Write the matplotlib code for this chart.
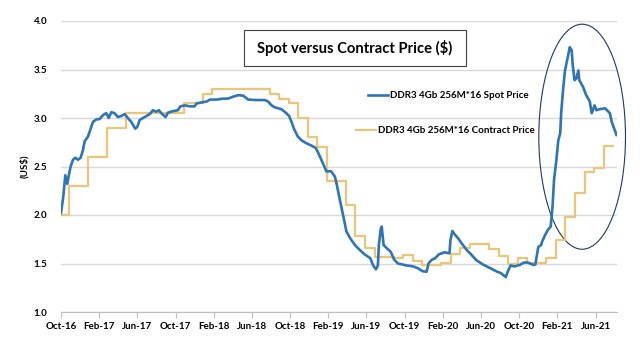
import matplotlib
matplotlib.use('Agg')
import matplotlib.pyplot as plt
from matplotlib.patches import Ellipse, Rectangle
from matplotlib.lines import Line2D
import numpy as np

# Months counted from Oct-2016
spot_month = [0.0, 0.24, 0.45, 0.66, 0.8, 1.01, 1.26, 1.5, 1.78, 2.06, 2.3, 2.48, 2.83, 3.0,
              3.35, 3.7, 4.05, 4.4, 4.75, 5.0, 5.27, 5.6, 5.97, 6.3, 6.67, 7.0, 7.36, 7.78,
              8.0, 8.24, 8.76, 9.3, 9.63, 9.98, 10.26, 10.5, 10.96, 11.2, 11.7, 12.25, 12.5,
              12.98, 13.5, 14.0, 14.2, 14.7, 15.26, 15.6, 16.3, 17.0, 17.5, 18.04, 18.57,
              19.1, 19.6, 20.5, 21.36, 21.7, 22.06, 22.4, 23.1, 23.6, 23.9, 24.15, 24.4,
              24.8, 25.2, 25.7, 26.25, 26.7, 26.95, 27.2, 27.5, 27.8, 28.3, 28.7, 28.9,
              29.1, 29.4, 29.7, 29.9, 30.3, 30.8, 31.3, 31.8, 32.4, 32.7, 33.0, 33.2, 33.3,
              33.5, 33.6, 33.8, 34.1, 34.55, 34.9, 35.3, 35.95, 36.2, 36.9, 37.4, 37.9,
              38.3, 38.5, 38.8, 39.2, 39.6, 40.2, 40.7, 40.8, 41.0, 41.25, 41.6, 41.96,
              42.5, 43.0, 43.5, 44.2, 44.9, 45.6, 46.1, 46.6, 46.8, 47.1, 47.5, 48.06,
              48.5, 48.9, 49.5, 49.7, 50.0, 50.3, 50.4, 50.7, 51.0, 51.3, 51.5, 51.65,
              51.9, 52.1, 52.3, 52.4, 52.6, 52.8, 52.95, 53.1, 53.3, 53.5, 53.6, 53.8,
              54.0, 54.2, 54.3, 54.7, 55.0, 55.4, 55.6, 55.9, 56.1, 56.4, 57.0, 57.5,
              57.7, 58.0, 58.2]
spot_price = [2.02, 2.19, 2.41, 2.32, 2.40, 2.50, 2.57, 2.59, 2.57, 2.59, 2.67, 2.76, 2.81, 2.86,
              2.96, 2.985, 2.99, 3.03, 3.05, 3.00, 3.06, 3.05, 3.01, 3.02, 3.04, 3.00, 2.96, 2.89,
              2.91, 2.98, 3.01, 3.04, 3.08, 3.065, 3.08, 3.05, 3.01, 3.055, 3.07, 3.08, 3.12,
              3.13, 3.12, 3.12, 3.15, 3.16, 3.17, 3.19, 3.19, 3.20, 3.20, 3.22, 3.235,
              3.23, 3.19, 3.185, 3.185, 3.17, 3.13, 3.11, 3.09, 3.05, 3.02, 2.96, 2.89,
              2.81, 2.77, 2.74, 2.715, 2.69, 2.64, 2.585, 2.52, 2.45, 2.45, 2.395, 2.31,
              2.21, 2.07, 1.93, 1.83, 1.76, 1.69, 1.64, 1.595, 1.555, 1.48, 1.44, 1.48, 1.69,
              1.86, 1.88, 1.69, 1.66, 1.62, 1.54, 1.50, 1.485, 1.48, 1.47, 1.45, 1.42,
              1.415, 1.50, 1.535, 1.555, 1.595, 1.615, 1.605, 1.74, 1.835, 1.80, 1.76, 1.71,
              1.64, 1.59, 1.535, 1.49, 1.455, 1.42, 1.40, 1.36, 1.415, 1.48, 1.47, 1.485,
              1.51, 1.51, 1.485, 1.49, 1.67, 1.69, 1.725, 1.79, 1.845, 1.88, 2.09, 2.36,
              2.57, 2.77, 2.84, 3.05, 3.29, 3.49, 3.56, 3.63, 3.73, 3.70, 3.56, 3.39,
              3.41, 3.49, 3.39, 3.32, 3.24, 3.17, 3.05, 3.13, 3.08, 3.09, 3.10, 3.05,
              2.96, 2.88, 2.825]

# Monthly contract price, Oct-16 onwards
contract_price = [2.00, 2.30, 2.30, 2.60, 2.60, 2.90, 2.90, 3.05, 3.05, 3.05, 3.05, 3.05, 3.05,
                  3.15, 3.15, 3.25, 3.30, 3.30, 3.30, 3.30, 3.30, 3.30, 3.25, 3.20, 3.15,
                  3.00, 2.80, 2.70, 2.35, 2.35, 2.10, 1.78, 1.66, 1.57, 1.57, 1.555, 1.59,
                  1.53, 1.48, 1.48, 1.51, 1.60, 1.66, 1.70, 1.70, 1.65, 1.58, 1.50, 1.555,
                  1.51, 1.51, 1.555, 1.74, 1.98, 2.23, 2.44, 2.48, 2.71, 2.71]

tick_labels = ['Oct-16', 'Feb-17', 'Jun-17', 'Oct-17', 'Feb-18', 'Jun-18', 'Oct-18', 'Feb-19',
               'Jun-19', 'Oct-19', 'Feb-20', 'Jun-20', 'Oct-20', 'Feb-21', 'Jun-21']

SPOT_COLOR = '#2e75b6'
CONTRACT_COLOR = '#ebc57a'
FONT = 'Lato'

plt.rcParams['font.family'] = FONT
plt.rcParams['font.weight'] = 'bold'

fig = plt.figure(figsize=(6.4, 3.46), dpi=100)
ax = fig.add_axes([61 / 640, 1 - 312 / 346, (617 - 61) / 640, (312 - 21) / 346])

contract_x = np.arange(len(contract_price)) - 0.15
contract_x[0] = 0
ax.step(contract_x, contract_price, where='post', color=CONTRACT_COLOR, linewidth=1.6,
        label='DDR3 4Gb 256M*16 Contract Price')
ax.plot(spot_month, spot_price, color=SPOT_COLOR, linewidth=1.9,
        label='DDR3 4Gb 256M*16 Spot Price')

ax.set_xlim(0, 58.25)
ax.set_ylim(1.0, 4.0)
ax.set_yticks(np.arange(1.0, 4.01, 0.5))
ax.set_yticklabels([f'{v:.1f}' for v in np.arange(1.0, 4.01, 0.5)])
ax.set_xticks(np.arange(0, 57, 4))
ax.set_xticklabels(tick_labels)
ax.yaxis.grid(True, color='#d9d9d9', linewidth=1.0)
ax.set_axisbelow(True)
for side in ['left', 'right', 'top']:
    ax.spines[side].set_visible(False)
ax.spines['bottom'].set_color('#bfbfbf')
ax.tick_params(axis='x', colors='#bfbfbf', length=4, width=0.8, labelcolor='black',
               labelsize=7, pad=3)
ax.tick_params(axis='y', length=0, labelsize=7, pad=10)
ax.set_ylabel('(US$)', fontsize=7, fontweight='bold', labelpad=3)

# Highlight the 2021 spike
ax.add_patch(Ellipse((54.6, 2.807), 9.08, 2.32, fill=False, edgecolor='#1f3864',
                     linewidth=0.8, clip_on=False))

# Title box
fig.patches.append(Rectangle((244 / 640, 1 - 66 / 346), 222 / 640, 36 / 346,
                             transform=fig.transFigure, fill=False,
                             edgecolor='#404040', linewidth=0.8))
fig.text(355 / 640, 1 - 48 / 346, 'Spot versus Contract Price ($)', ha='center', va='center',
         fontsize=10.6, fontweight='bold')

# Two separate legend entries, placed as in the original layout
spot_handle = Line2D([], [], color=SPOT_COLOR, linewidth=1.9)
contract_handle = Line2D([], [], color=CONTRACT_COLOR, linewidth=1.6)
leg1 = fig.legend([spot_handle], ['DDR3 4Gb 256M*16 Spot Price'], loc='center left',
                  bbox_to_anchor=(368 / 640, 1 - 95.7 / 346), frameon=False, fontsize=7,
                  handlelength=2.1, handletextpad=0.2, borderpad=0, borderaxespad=0)
leg2 = fig.legend([contract_handle], ['DDR3 4Gb 256M*16 Contract Price'], loc='center left',
                  bbox_to_anchor=(356 / 640, 1 - 130.7 / 346), frameon=False, fontsize=7,
                  handlelength=2.1, handletextpad=0.2, borderpad=0, borderaxespad=0)

fig.savefig('out.png', dpi=100)
plt.close(fig)
